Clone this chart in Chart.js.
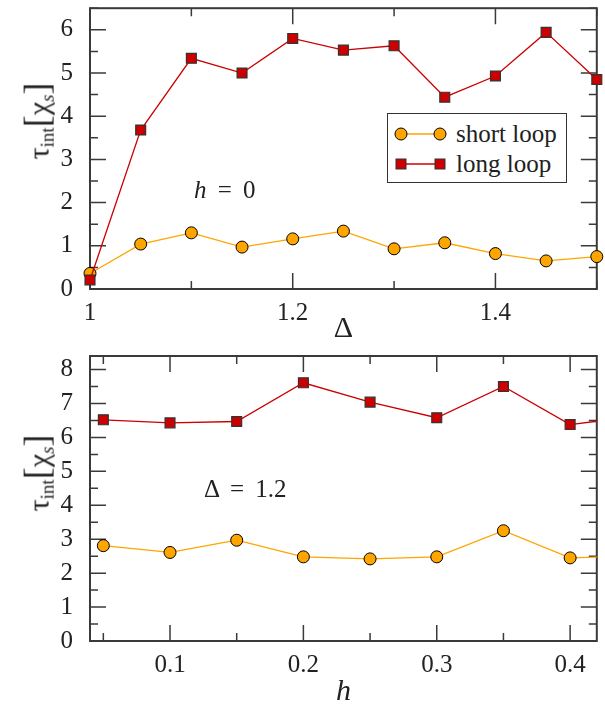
<!DOCTYPE html>
<html>
<head>
<meta charset="utf-8">
<script src="https://cdn.jsdelivr.net/npm/chart.js@4.4.1/dist/chart.umd.min.js"></script>
<style>
  body { margin: 0; background: #fff; }
  #wrap { position: relative; width: 605px; height: 707px; font-family: "Liberation Serif", "Times New Roman", Tinos, "DejaVu Serif", serif; color: #222; }
  .panel { position: absolute; left: 0; }
  .ytitle { position: absolute; font-size: 30px; white-space: nowrap; transform: translate(-50%, -50%) rotate(-90deg); }
  .ytitle sub { font-size: 19px; vertical-align: -0.25em; }
  .ytitle .br { font-size: 36px; font-weight: 100; }
  .note { position: absolute; font-size: 25px; white-space: nowrap; word-spacing: 0.2em; transform: translateY(-50%); }
  #legend { position: absolute; left: 387px; top: 113px; width: 178px; height: 68px; border: 1.5px solid #333; background: #fff; }
  #legend .row { position: absolute; left: 0; height: 30px; display: flex; align-items: center; font-size: 25px; }
  #legend svg { margin-left: 6px; margin-right: 8px; }
</style>
</head>
<body>
<div id="wrap">
  <div class="panel" style="top:0"><canvas id="chartDelta" width="605" height="340"></canvas></div>
  <div class="panel" style="top:340px"><canvas id="chartH" width="605" height="367"></canvas></div>

  <div class="ytitle" style="left:37px; top:121px">τ<sub>int</sub><span class="br">[</span>χ<sub><i>s</i></sub><span class="br">]</span></div>
  <div class="ytitle" style="left:37px; top:473px">τ<sub>int</sub><span class="br">[</span>χ<sub><i>s</i></sub><span class="br">]</span></div>

  <div class="note" style="left:194px; top:190px"><i>h</i> = 0</div>
  <div class="note" style="left:204px; top:489px">Δ = 1.2</div>

  <div id="legend">
    <div class="row" style="top:5px">
      <svg width="54" height="16"><line x1="7" y1="8" x2="46" y2="8" stroke="#FFA500" stroke-width="1.3"/><circle cx="7" cy="8" r="6" fill="#FFA500" stroke="#000" stroke-width="1"/><circle cx="46" cy="8" r="6" fill="#FFA500" stroke="#000" stroke-width="1"/></svg>
      <span>short loop</span>
    </div>
    <div class="row" style="top:35px">
      <svg width="54" height="16"><line x1="7" y1="8" x2="46" y2="8" stroke="#CC0000" stroke-width="1.3"/><rect x="2" y="3" width="10" height="10" fill="#CC0000" stroke="#333" stroke-width="1"/><rect x="41" y="3" width="10" height="10" fill="#CC0000" stroke="#333" stroke-width="1"/></svg>
      <span>long loop</span>
    </div>
  </div>
</div>

<script>
// Panel 1: h = 0, tau vs Delta
const deltaValues = [1.00, 1.05, 1.10, 1.15, 1.20, 1.25, 1.30, 1.35, 1.40, 1.45, 1.50];
const shortLoopDelta = [0.36, 1.04, 1.30, 0.97, 1.16, 1.34, 0.93, 1.07, 0.82, 0.65, 0.75];
const longLoopDelta = [0.21, 3.68, 5.34, 5.00, 5.80, 5.53, 5.63, 4.44, 4.93, 5.94, 4.85];

// Panel 2: Delta = 1.2, tau vs h
const hValues = [0.05, 0.10, 0.15, 0.20, 0.25, 0.30, 0.35, 0.40, 0.45];
const shortLoopH = [2.81, 2.61, 2.97, 2.48, 2.42, 2.48, 3.25, 2.45, 2.50];
const longLoopH = [6.52, 6.43, 6.47, 7.61, 7.04, 6.58, 7.50, 6.38, 6.62];

// ticks
const deltaMajorTicks = [1, 1.2, 1.4];
const deltaTickLabels = ['1', '1.2', '1.4'];
const deltaMinorTicks = [1.1, 1.3, 1.5];
const tauDeltaMajorTicks = [0, 1, 2, 3, 4, 5, 6];
const tauDeltaTickLabels = ['0', '1', '2', '3', '4', '5', '6'];
const tauDeltaMinorTicks = [0.5, 1.5, 2.5, 3.5, 4.5, 5.5, 6.5];

const hMajorTicks = [0.1, 0.2, 0.3, 0.4];
const hTickLabels = ['0.1', '0.2', '0.3', '0.4'];
const hMinorTicks = [0.05, 0.15, 0.25, 0.35];
const tauHMajorTicks = [0, 1, 2, 3, 4, 5, 6, 7, 8];
const tauHTickLabels = ['0', '1', '2', '3', '4', '5', '6', '7', '8'];
const tauHMinorTicks = [0.5, 1.5, 2.5, 3.5, 4.5, 5.5, 6.5, 7.5];

const ORANGE = '#FFA500';
const RED = '#CC0000';
const SERIF = '"Liberation Serif", "Times New Roman", Tinos, "DejaVu Serif", serif';
const tickFont = { family: SERIF, size: 25 };

// frame with inward ticks on all four sides
const frameTicks = {
    id: 'frameTicks',
    beforeDatasetsDraw(chart, args, opts) {
        const { ctx, chartArea: a, scales: { x, y } } = chart;
        ctx.save();
        ctx.strokeStyle = '#3a3a3a';
        ctx.lineWidth = 1.5;
        ctx.beginPath();
        const xt = (vals, len) => vals.forEach(v => {
            const p = x.getPixelForValue(v);
            ctx.moveTo(p, a.bottom); ctx.lineTo(p, a.bottom - len);
            ctx.moveTo(p, a.top); ctx.lineTo(p, a.top + len);
        });
        const yt = (vals, len) => vals.forEach(v => {
            const p = y.getPixelForValue(v);
            ctx.moveTo(a.left, p); ctx.lineTo(a.left + len, p);
            ctx.moveTo(a.right, p); ctx.lineTo(a.right - len, p);
        });
        xt(opts.xMajor, 16); xt(opts.xMinor, 8);
        yt(opts.yMajor, 16); yt(opts.yMinor, 8);
        ctx.stroke();
        ctx.lineWidth = 2;
        ctx.strokeRect(a.left, a.top, a.width, a.height);
        ctx.restore();
    }
};

function seriesPoints(xs, ys) {
    return xs.map((v, i) => ({ x: v, y: ys[i] }));
}

function makeChart(id, cfg) {
    return new Chart(document.getElementById(id), {
        type: 'line',
        data: {
            datasets: [{
                label: 'short loop',
                data: seriesPoints(cfg.xs, cfg.shortY),
                borderColor: ORANGE,
                backgroundColor: ORANGE,
                borderWidth: 1.3,
                pointStyle: 'circle',
                pointRadius: 6,
                pointBackgroundColor: ORANGE,
                pointBorderColor: '#000',
                pointBorderWidth: 1,
                tension: 0,
                order: 1,
                clip: cfg.clip
            }, {
                label: 'long loop',
                data: seriesPoints(cfg.xs, cfg.longY),
                borderColor: RED,
                backgroundColor: RED,
                borderWidth: 1.3,
                pointStyle: 'rect',
                pointRadius: 7,
                pointBackgroundColor: RED,
                pointBorderColor: '#333',
                pointBorderWidth: 1.2,
                tension: 0,
                order: 0,
                clip: cfg.clip
            }]
        },
        options: {
            responsive: false,
            animation: false,
            layout: { padding: cfg.padding },
            plugins: {
                legend: { display: false },
                tooltip: { enabled: false },
                frameTicks: {
                    xMajor: cfg.xMajor, xMinor: cfg.xMinor,
                    yMajor: cfg.yMajor, yMinor: cfg.yMinor
                }
            },
            scales: {
                x: {
                    type: 'linear',
                    min: cfg.xMin,
                    max: cfg.xMax,
                    grid: { display: false },
                    border: { display: false },
                    afterBuildTicks: s => { s.ticks = cfg.xMajor.map(v => ({ value: v })); },
                    afterFit: s => { s.height = cfg.xHeight; s.paddingLeft = 0; s.paddingRight = 0; },
                    ticks: {
                        font: tickFont,
                        color: '#222',
                        padding: 1,
                        maxRotation: 0,
                        autoSkip: false,
                        callback: (v, i) => cfg.xLabels[i]
                    },
                    title: {
                        display: true,
                        text: cfg.xTitle,
                        color: '#222',
                        font: { family: SERIF, size: 30, style: cfg.xTitleStyle, lineHeight: 1 },
                        padding: { top: 0, bottom: cfg.xTitlePad }
                    }
                },
                y: {
                    min: 0,
                    max: cfg.yMax,
                    grid: { display: false },
                    border: { display: false },
                    afterBuildTicks: s => { s.ticks = cfg.yMajor.map(v => ({ value: v })); },
                    afterFit: s => { s.width = 90; s.paddingTop = 0; s.paddingBottom = 0; },
                    ticks: {
                        font: tickFont,
                        color: '#222',
                        padding: 9,
                        autoSkip: false,
                        callback: (v, i) => cfg.yLabels[i]
                    }
                }
            }
        },
        plugins: [frameTicks]
    });
}

makeChart('chartDelta', {
    xs: deltaValues, shortY: shortLoopDelta, longY: longLoopDelta,
    xMin: 1, xMax: 1.5, yMax: 6.5,
    xMajor: deltaMajorTicks, xMinor: deltaMinorTicks, xLabels: deltaTickLabels,
    yMajor: tauDeltaMajorTicks, yMinor: tauDeltaMinorTicks, yLabels: tauDeltaTickLabels,
    xTitle: 'Δ', xTitleStyle: 'normal', xTitlePad: -4, xHeight: 51,
    padding: { top: 3, right: 8, left: 0, bottom: 0 },
    clip: false
});

makeChart('chartH', {
    xs: hValues, shortY: shortLoopH, longY: longLoopH,
    xMin: 0.04, xMax: 0.42, yMax: 8.4,
    xMajor: hMajorTicks, xMinor: hMinorTicks, xLabels: hTickLabels,
    yMajor: tauHMajorTicks, yMinor: tauHMinorTicks, yLabels: tauHTickLabels,
    xTitle: 'h', xTitleStyle: 'italic', xTitlePad: 0, xHeight: 66,
    padding: { top: 16, right: 8, left: 0, bottom: 0 },
    clip: { left: false, top: false, right: 0, bottom: false }
});
</script>
</body>
</html>
